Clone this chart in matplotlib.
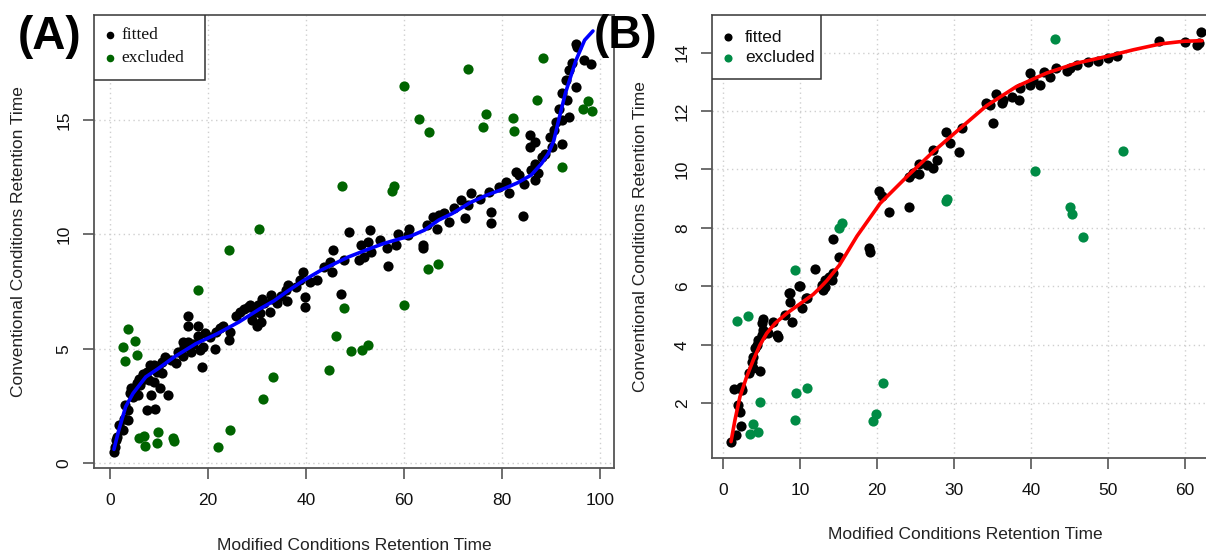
import matplotlib
matplotlib.use("Agg")
import matplotlib.pyplot as plt
import numpy as np

plt.rcParams['font.family'] = ['Liberation Sans', 'DejaVu Sans']

# ---------------- Panel A data ----------------
a_fit_x = [0.73, 1.1, 1.25, 1.5, 1.8, 2.55, 2.9, 3.06, 3.65, 3.7, 4.0, 4.7, 5.1, 5.8, 6.2, 6.55,
           7.3, 7.65, 8.0, 8.4, 8.2, 8.9, 9.1, 9.5, 8.9, 10.3, 10.6, 10.6, 11.3, 11.9, 13.5, 13.9,
           14.8, 15.1, 15.0, 15.9, 15.9, 16.6, 18.0, 18.0, 18.3, 18.8, 19.3, 20.4, 21.5, 21.7,
           24.2, 24.4, 25.7, 27.3, 28.2, 29.0, 30.0, 30.8, 30.6, 32.6, 30.3, 36.2, 39.9,
           4.3, 5.5, 6.0, 6.8, 7.5, 9.0, 9.8, 12.5, 16.0, 17.0, 19.0, 22.5, 23.0, 26.5, 28.5,
           29.5, 31.5, 33.0, 34.0, 35.0,
           95.1, 95.3, 96.8, 98.2, 95.1, 93.7, 94.4, 93.0, 92.3, 93.3, 91.6, 93.7, 92.3, 91.0,
           90.6, 89.9, 92.3, 90.2, 88.8, 88.1, 86.7, 87.4, 86.0, 86.7, 84.6, 85.7, 86.7, 85.7,
           82.9, 83.6, 80.8, 81.5, 79.4, 77.3, 84.3, 77.7, 77.7, 75.6, 73.8, 71.7, 73.1, 70.3,
           69.2, 72.4, 68.2, 67.1, 66.0, 66.8, 64.7, 61.1, 60.8, 58.7, 58.3, 63.9, 63.9, 56.5,
           56.8, 55.1, 53.0, 52.6, 53.3, 51.2, 50.8, 51.9, 48.7, 47.7, 45.6, 45.3, 43.6, 45.0,
           47.1, 42.2, 40.8, 39.4, 38.7, 39.8, 38.0, 36.3, 36.0, 32.8, 31.1]
a_fit_y = [0.5, 0.71, 1.0, 1.16, 1.66, 1.45, 1.95, 2.54, 2.32, 1.88, 3.05, 2.9, 3.27, 2.97, 3.41, 3.63,
           3.77, 2.32, 3.63, 2.97, 4.28, 4.3, 2.35, 3.99, 3.56, 3.27, 3.95, 4.43, 4.62, 3.0, 4.36, 4.87,
           5.3, 5.1, 4.68, 6.43, 5.99, 4.87, 5.99, 5.55, 4.93, 4.21, 5.7, 5.5, 4.98, 5.75,
           5.38, 5.75, 6.43, 6.76, 6.84, 6.25, 5.99, 6.18, 6.58, 6.62, 6.91, 7.1, 6.84,
           3.3, 3.5, 3.7, 3.9, 4.0, 4.1, 4.2, 4.5, 5.3, 5.2, 5.1, 5.9, 6.0, 6.6, 6.9,
           6.6, 7.0, 7.2, 7.0, 7.3,
           18.35, 18.2, 17.62, 17.45, 16.43, 17.18, 17.48, 16.75, 16.17, 15.87, 15.51, 15.15, 15.0, 14.93,
           14.56, 14.27, 13.95, 13.83, 13.54, 13.4, 13.1, 12.67, 12.81, 12.37, 12.23, 14.34, 14.05, 13.83,
           12.74, 12.6, 12.3, 11.8, 12.08, 11.87, 10.8, 10.99, 10.51, 11.57, 11.8, 11.5, 11.28, 11.14,
           10.55, 10.7, 10.92, 10.85, 10.77, 10.26, 10.41, 10.26, 9.97, 10.04, 9.53, 9.53, 9.43, 9.39,
           8.63, 9.75, 10.19, 9.68, 9.24, 9.53, 8.88, 9.02, 10.12, 8.88, 9.32, 8.37, 8.59, 8.8,
           7.38, 8.0, 7.93, 8.37, 8.0, 7.27, 7.71, 7.78, 7.56, 7.35, 7.2]

a_exc_x = [88.4, 73.1, 60.1, 63.1, 65.2, 76.7, 76.1, 82.3, 82.4, 87.2, 97.5, 96.5, 98.4, 92.3,
           47.4, 58.0, 57.5, 30.4, 24.2, 17.9, 64.9, 67.0,
           3.65, 2.7, 5.0, 3.1, 5.6, 5.9, 7.0, 7.2, 9.7, 9.5, 12.9, 13.1, 22.1, 24.5, 31.2,
           33.3, 44.7, 46.2, 47.7, 49.2, 51.5, 52.7, 60.1]
a_exc_y = [17.74, 17.23, 16.51, 15.06, 14.5, 15.29, 14.68, 15.1, 14.53, 15.89, 15.86, 15.47, 15.38, 12.94,
           12.14, 12.14, 11.9, 10.22, 9.33, 7.56, 8.51, 8.69,
           5.85, 5.09, 5.35, 4.47, 4.72, 1.08, 1.19, 0.74, 1.34, 0.9, 1.1, 0.96, 0.70, 1.44, 2.81,
           3.76, 4.07, 5.57, 6.78, 4.91, 4.94, 5.17, 6.91]

a_curve_x = [0.8, 1.8, 3.2, 4.7, 7.3, 9.8, 13.1, 17.5, 21.9, 26.3, 30.6, 33.5, 36.1, 39.6, 43.1, 45.9,
             48.7, 52.3, 55.8, 59.3, 61.4, 64.2, 67.1, 69.9, 73.4, 76.9, 80.4, 83.2, 86.0, 88.1,
             89.5, 90.6, 91.6, 93.0, 95.1, 96.9, 98.6]
a_curve_y = [0.6, 1.45, 2.47, 3.05, 3.77, 4.13, 4.64, 5.22, 5.66, 6.17, 6.75, 7.1, 7.5, 8.0, 8.44, 8.73,
             9.02, 9.32, 9.6, 9.82, 9.93, 10.19, 10.63, 10.92, 11.38, 11.72, 12.0, 12.26, 12.6, 13.1,
             13.54, 14.1, 15.0, 16.2, 17.6, 18.5, 18.9]

# ---------------- Panel B data ----------------
b_fit_x = [1.04, 1.68, 2.29, 2.2, 1.98, 1.47, 2.34, 2.5, 3.42, 3.94, 4.8, 3.72, 3.94, 4.16, 4.37, 4.59,
           5.0, 5.2, 5.9, 5.0, 5.15, 6.45, 7.19, 6.97, 9.0, 8.05, 8.7, 8.7, 10.0, 10.2, 10.9, 12.8,
           13.2, 14.1,
           62.1, 61.5, 61.8, 60.05, 56.6, 51.1, 50.0, 48.7, 47.4, 45.9, 45.1, 44.6, 43.3, 42.5,
           41.7, 41.2, 40.3, 39.9, 39.9, 38.6, 38.4, 37.5, 36.3, 36.2, 35.5, 34.7, 34.2, 35.0,
           31.0, 28.96, 29.5, 30.6, 27.3, 27.8, 27.3, 26.5, 25.4, 25.4, 24.7, 24.2, 24.2, 21.5,
           20.6, 20.3, 19.1, 18.9, 15.0, 14.3, 12.0, 14.3, 13.7, 13.3, 12.8, 13.0, 9.9, 8.6, 10.8]
b_fit_y = [0.68, 0.91, 1.22, 1.68, 1.94, 2.48, 2.54, 2.45, 3.04, 3.19, 3.11, 3.42, 3.59, 3.88, 3.99, 4.16,
           4.33, 4.5, 4.39, 4.73, 4.87, 4.79, 4.27, 4.33, 4.77, 5.02, 5.47, 5.76, 6.01, 5.25, 5.59, 5.93,
           5.99, 6.22,
           14.72, 14.26, 14.33, 14.38, 14.41, 13.89, 13.81, 13.72, 13.69, 13.58, 13.47, 13.38, 13.49, 13.18,
           13.35, 12.89, 13.07, 13.29, 12.89, 12.78, 12.38, 12.49, 12.38, 12.27, 12.58, 12.21, 12.27, 11.58,
           11.43, 11.29, 10.92, 10.6, 10.67, 10.33, 10.04, 10.15, 10.18, 9.84, 9.87, 9.75, 8.71, 8.53,
           9.1, 9.26, 7.19, 7.3, 7.01, 7.63, 6.6, 6.44, 6.33, 6.21, 6.04, 5.87, 6.01, 5.76, 5.59]

b_exc_x = [1.86, 3.29, 4.8, 3.85, 3.5, 4.5, 9.52, 10.9, 9.35, 19.5, 19.8, 20.8,
           9.35, 15.1, 15.5, 28.9, 29.1, 40.5, 43.1, 51.9, 45.1, 45.3, 46.8]
b_exc_y = [4.8, 4.98, 2.05, 1.28, 0.94, 1.02, 2.33, 2.51, 1.42, 1.4, 1.63, 2.68,
           6.56, 7.99, 8.18, 8.92, 8.98, 9.94, 14.46, 10.63, 8.71, 8.48, 7.69]

b_curve_x = [1.04, 1.55, 2.2, 3.07, 3.94, 4.8, 5.67, 6.75, 8.26, 10.0, 11.7, 12.6, 13.5, 15.1, 17.4,
             20.4, 23.9, 27.3, 30.8, 34.2, 38.1, 42.0, 45.9, 49.8, 53.3, 56.8, 59.8, 62.2]
b_curve_y = [0.68, 1.42, 2.22, 2.9, 3.48, 3.99, 4.39, 4.73, 5.07, 5.4, 5.72, 5.95, 6.2, 6.72, 7.72,
             8.84, 9.76, 10.61, 11.41, 12.18, 12.84, 13.3, 13.64, 13.87, 14.1, 14.3, 14.39, 14.41]

a_xticks = [0, 20, 40, 60, 80, 100]
a_yticks = [0, 5, 10, 15]
b_xticks = [0, 10, 20, 30, 40, 50, 60]
b_yticks = [2, 4, 6, 8, 10, 12, 14]

W, H = 1206, 552
fig = plt.figure(figsize=(W / 100, H / 100), dpi=100)

def px_axes(l, t, r, b):
    return fig.add_axes([l / W, 1 - b / H, (r - l) / W, (b - t) / H])

axA = px_axes(94, 15, 614, 467.7)
axB = px_axes(712, 15, 1219, 458)

spine_col = '#555555'
FS = 12.5
DOT = 54

def style(ax, xt, yt, xlim, ylim):
    ax.set_xlim(*xlim)
    ax.set_ylim(*ylim)
    ax.set_xticks(xt)
    ax.set_yticks(yt)
    ax.set_axisbelow(True)
    ax.grid(True, linestyle=(0, (1, 2.5)), color='#cfcfcf', linewidth=1.0)
    for s in ax.spines.values():
        s.set_color(spine_col)
        s.set_linewidth(1.3)
    ax.tick_params(axis='both', direction='out', length=8, width=1.2, color=spine_col,
                   labelsize=FS, labelcolor='#111111')
    ax.tick_params(axis='x', pad=10)
    ax.tick_params(axis='y', pad=8)
    for lab in ax.get_yticklabels():
        lab.set_rotation(90)
        lab.set_va('center')
    ax.set_xlabel('Modified Conditions Retention Time', fontsize=FS, color='#222222')
    ax.set_ylabel('Conventional Conditions Retention Time', fontsize=FS, color='#222222')

# Panel A
axA.scatter(a_fit_x, a_fit_y, s=DOT, color='black', linewidths=0, zorder=3)
axA.scatter(a_exc_x, a_exc_y, s=DOT, color='#006400', linewidths=0, zorder=3)
axA.plot(a_curve_x, a_curve_y, color='#0000FF', lw=2.6, zorder=4, solid_capstyle='round')
style(axA, a_xticks, a_yticks, (-3.27, 102.9), (-0.2, 19.6))
axA.xaxis.set_label_coords(0.5, -0.155)
axA.yaxis.set_label_coords(-0.131, 0.5)

# Panel B
axB.scatter(b_fit_x, b_fit_y, s=DOT, color='black', linewidths=0, zorder=3)
axB.scatter(b_exc_x, b_exc_y, s=DOT, color='#008B45', linewidths=0, zorder=3)
axB.plot(b_curve_x, b_curve_y, color='#FF0000', lw=2.6, zorder=4, solid_capstyle='round')
style(axB, b_xticks, b_yticks, (-1.43, 64.4), (0.12, 15.29))
axB.xaxis.set_label_coords(0.5, -0.156)
axB.yaxis.set_label_coords(-0.126, 0.5)

# Legends (drawn manually in pixel-based axes fractions, R style)
def legend(ax, axl, axt, axw, axh, box, rows, family, mk_size, text_x, mk_x):
    from matplotlib.patches import Rectangle
    l, t, r, b = box
    ax.add_patch(Rectangle(((l - axl) / axw, 1 - (b - axt) / axh), (r - l) / axw, (b - t) / axh,
                           transform=ax.transAxes, facecolor='white', edgecolor='#333333',
                           linewidth=1.1, zorder=5))
    for (yy, col, lab) in rows:
        fy = 1 - (yy - axt) / axh
        ax.scatter([(mk_x - axl) / axw], [fy], transform=ax.transAxes, s=mk_size, color=col,
                   linewidths=0, zorder=6, clip_on=False)
        ax.text((text_x - axl) / axw, fy, lab, transform=ax.transAxes, fontsize=FS,
                family=family, va='center', ha='left', zorder=6, color='#111111')

legend(axA, 94, 15, 520, 452.7, (94, 15, 205, 80),
       [(35, 'black', 'fitted'), (58, '#006400', 'excluded')],
       ['Liberation Serif', 'DejaVu Serif'], 30, 121, 110)
legend(axB, 712, 15, 507, 443, (712, 15, 821, 79),
       [(37, 'black', 'fitted'), (58, '#008B45', 'excluded')],
       ['Liberation Sans', 'DejaVu Sans'], 34, 745, 728)

fig.text(50 / W, 1 - 49 / H, '(A)', fontsize=33, fontweight='bold', ha='center', va='baseline')
fig.text(626 / W, 1 - 48 / H, '(B)', fontsize=33, fontweight='bold', ha='center', va='baseline')

fig.savefig('out.png', dpi=100)
